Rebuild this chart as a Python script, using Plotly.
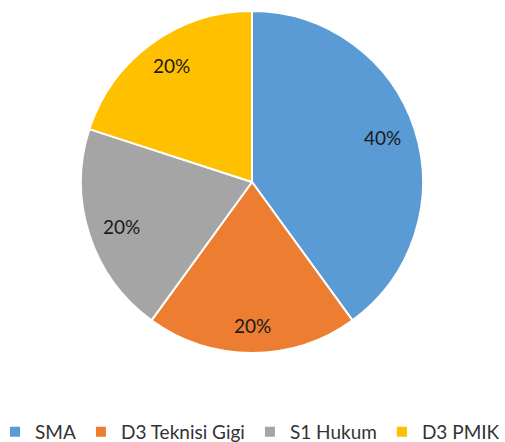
import math
import plotly.graph_objects as go

categories = ["SMA", "D3 Teknisi Gigi", "S1 Hukum", "D3 PMIK"]
values = [40, 20, 20, 20]
colors = ["#5B9BD5", "#ED7D31", "#A5A5A5", "#FFC000"]

W, H = 505, 442
cx, cy, R = 252, 182, 171  # pie centre and radius in pixels
fig = go.Figure(go.Pie(
    labels=categories, values=values, sort=False, direction="clockwise", rotation=0,
    marker=dict(colors=colors, line=dict(color="white", width=2)),
    textinfo="none", hoverinfo="label+percent",
    domain=dict(x=[(cx - R) / W, (cx + R) / W], y=[1 - (cy + R) / H, 1 - (cy - R) / H]),
))

# percentage labels near the outer part of each slice, at its middle angle
total = sum(values)
cum = 0
for v in values:
    mid = (cum + v / 2) / total * 2 * math.pi
    cum += v
    px = cx + 0.80 * R * math.sin(mid)
    py = cy - 0.84 * R * math.cos(mid)
    fig.add_annotation(x=px / W, y=1 - py / H, xref="paper", yref="paper",
                       xanchor="center", yanchor="middle",
                       text=f"{round(v / total * 100)}%", showarrow=False,
                       font=dict(family="Lato, Liberation Sans", size=19, color="#1a1a1a"))

fig.update_layout(
    width=W, height=H, margin=dict(l=0, r=0, t=0, b=0, autoexpand=False),
    paper_bgcolor="white", plot_bgcolor="white",
    showlegend=True,
    legend=dict(orientation="h", x=1, xanchor="right", y=(H - 432) / H, yanchor="middle",
                font=dict(family="Lato, Liberation Sans", size=19, color="#333333"),
                itemwidth=30, tracegroupgap=0),
)
fig.write_html("out.html", config={"displayModeBar": False},
               post_script="document.body.style.margin='0';")
